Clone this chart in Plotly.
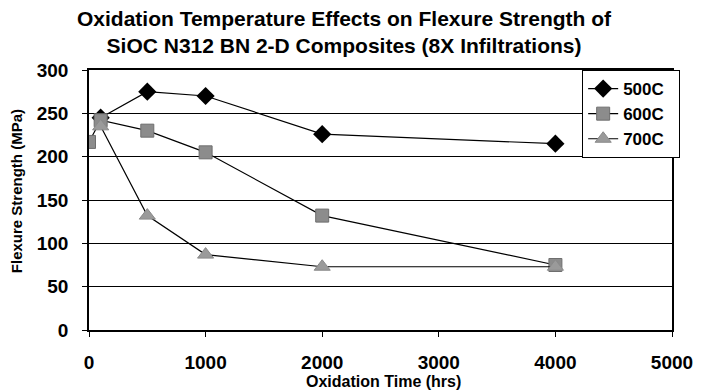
import plotly.graph_objects as go

# oxidation time (hrs) and flexure strength (MPa)
time_500 = [100, 500, 1000, 2000, 4000]
strength_500 = [245, 275, 270, 226, 215]

time_600 = [0, 100, 500, 1000, 2000, 4000]
strength_600 = [217, 242, 230, 205, 132, 75]

time_700 = [100, 500, 1000, 2000, 4000]
strength_700 = [235, 132, 87, 73, 73]

font = "Liberation Sans, Arial, sans-serif"

fig = go.Figure()
fig.add_trace(go.Scatter(x=time_500, y=strength_500, name="<b>500C</b>\u00a0\u00a0", mode="lines+markers",
                         line=dict(color="black", width=1.2),
                         marker=dict(symbol="diamond", size=14, color="black")))
fig.add_trace(go.Scatter(x=time_600, y=strength_600, name="<b>600C</b>\u00a0\u00a0", mode="lines+markers",
                         line=dict(color="black", width=1.2),
                         marker=dict(symbol="square", size=13, color="#8c8c8c",
                                     line=dict(color="#6e6e6e", width=1))))
fig.add_trace(go.Scatter(x=time_700, y=strength_700, name="<b>700C</b>\u00a0\u00a0", mode="lines+markers",
                         line=dict(color="black", width=1.2),
                         marker=dict(symbol="triangle-up", size=14, color="#9a9a9a",
                                     line=dict(color="#8a8a8a", width=1))))

fig.add_annotation(text="<b>Oxidation Temperature Effects on Flexure Strength of<br>SiOC N312 BN 2-D Composites (8X Infiltrations)</b>",
                   xref="paper", yref="paper", x=0.439, y=1, xanchor="center", yanchor="bottom",
                   yshift=11, showarrow=False, font=dict(size=21), align="center")
fig.add_annotation(text="<b>Oxidation Time (hrs)</b>",
                   xref="paper", yref="paper", x=0.505, y=-0.2385, xanchor="center", yanchor="bottom",
                   showarrow=False, font=dict(size=16))
fig.add_annotation(text="<b>Flexure Strength (MPa)</b>", textangle=-90,
                   xref="paper", yref="paper", x=-0.123, y=0.535, xanchor="center", yanchor="middle",
                   showarrow=False, font=dict(size=15))

fig.update_layout(
    width=705, height=392,
    margin=dict(l=89, r=22, t=70, b=62),
    paper_bgcolor="white", plot_bgcolor="white",
    font=dict(family=font, color="black"),
    legend=dict(x=1.014, xanchor="right", y=1.0, yanchor="top",
                bordercolor="black", borderwidth=1, bgcolor="white",
                font=dict(size=17), tracegroupgap=0, itemwidth=30),
    showlegend=True,
)
fig.update_xaxes(range=[0, 5000], dtick=1000, showgrid=False, zeroline=False,
                 showline=True, linecolor="black", linewidth=1.5, mirror=True,
                 ticks="outside", ticklen=5, tickcolor="black", ticklabeloverflow="allow",
                 ticklabelstandoff=9,
                 tickfont=dict(size=19), tickprefix="<b>", ticksuffix="</b>")
fig.update_yaxes(range=[0, 300], dtick=50, showgrid=True, gridcolor="black", gridwidth=1,
                 zeroline=False, showline=True, linecolor="black", linewidth=1.5, mirror=True,
                 ticks="outside", ticklen=5, tickcolor="black", ticklabelstandoff=10,
                 tickfont=dict(size=19), tickprefix="<b>", ticksuffix="</b>")

# drop the default 8px body margin so the figure fills the window
fig.write_html("out.html", config={"displayModeBar": False},
               post_script="document.body.style.margin='0';")
